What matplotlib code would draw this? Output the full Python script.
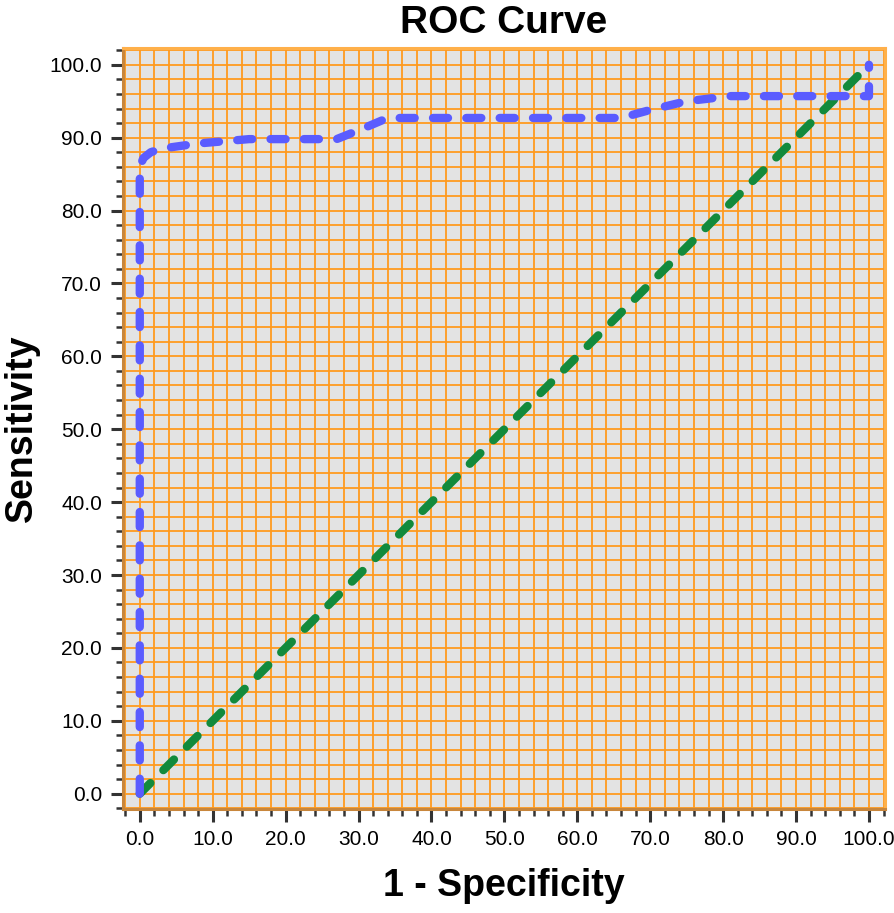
import matplotlib
matplotlib.use("Agg")
import matplotlib.pyplot as plt
import numpy as np

plt.rcParams['font.family'] = ['Liberation Sans', 'DejaVu Sans']

# ROC curve (percent)
fpr = [0, 0, 0.5, 1.5, 3, 8, 15, 27, 30, 34, 66, 70, 75, 81, 100, 100]
tpr = [0, 86, 87.2, 88, 88.5, 89.2, 89.8, 89.8, 91, 92.7, 92.7, 93.8, 95, 95.7, 95.7, 100]
ref_line = [0, 100]

major_ticks = np.arange(0, 101, 10)
minor_ticks = np.arange(-2, 103, 2)

fig = plt.figure(figsize=(8.95, 9.13), dpi=100)
ax = fig.add_axes([123/895, 1 - 809/913, (885-123)/895, (809-48)/913])
ax.set_facecolor('#E3E3E3')

ax.set_xticks(minor_ticks, minor=True)
ax.set_yticks(minor_ticks, minor=True)
ax.grid(which='both', color='#FF9A1F', linewidth=1.3, zorder=0)
ax.set_axisbelow(True)

ax.plot(ref_line, ref_line, color='#128A3C', linewidth=6,
        dashes=(1.8, 2.2), dash_capstyle='round', zorder=3)
ax.plot(fpr, tpr, color='#5A5CFF', linewidth=6,
        dashes=(1.8, 2.2), dash_capstyle='round', zorder=4)

ax.set_xlim(-2.3, 102.2)
ax.set_ylim(-2.1, 102.3)
ax.set_xticks(major_ticks)
ax.set_yticks(major_ticks)
ax.set_xticklabels(["%.1f" % t for t in major_ticks])
ax.set_yticklabels(["%.1f" % t for t in major_ticks])

ax.tick_params(which='major', length=9, width=2.2, color='#333333',
               labelsize=15, pad=6)
ax.tick_params(which='minor', length=5, width=1.8, color='#333333')

for side in ['left', 'bottom']:
    ax.spines[side].set_color('#C8863C')
    ax.spines[side].set_linewidth(2.2)
for side in ['top', 'right']:
    ax.spines[side].set_color('#FFB04A')
    ax.spines[side].set_linewidth(2.2)

ax.set_title("ROC Curve", fontsize=28, fontweight='bold', pad=11)
ax.set_xlabel("1 - Specificity", fontsize=27, fontweight='bold', labelpad=14)
ax.set_ylabel("Sensitivity", fontsize=27, fontweight='bold', labelpad=7)

fig.savefig("out.png", dpi=100)
